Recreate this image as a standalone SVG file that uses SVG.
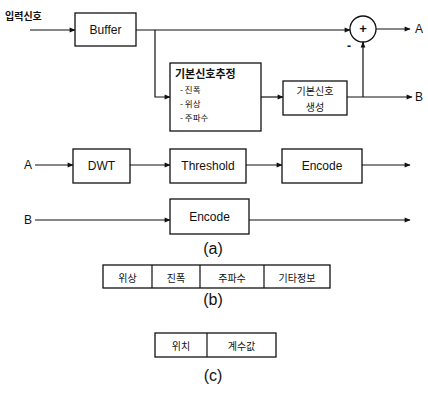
<svg xmlns="http://www.w3.org/2000/svg" width="428" height="396" viewBox="0 0 428 396">
<defs>
<marker id="ah" viewBox="0 0 10 10" refX="9" refY="5" markerWidth="7" markerHeight="6" markerUnits="userSpaceOnUse" orient="auto">
<path d="M0,1 L10,5 L0,9 Z" fill="#111"/>
</marker>
</defs>
<style>
.box{fill:#fff;stroke:#111;stroke-width:1.3}
.ln{fill:none;stroke:#111;stroke-width:1.2}
.t{font-family:"Liberation Sans","Noto Sans CJK KR",sans-serif;font-size:12px;fill:#111;text-anchor:middle;dominant-baseline:central}
.kc{font-family:"Noto Sans CJK KR","Liberation Sans",sans-serif;font-size:10px;fill:#111;text-anchor:middle;dominant-baseline:central}
.k{font-family:"Noto Sans CJK KR","Liberation Sans",sans-serif;font-size:10px;fill:#111;dominant-baseline:central}
.cap{font-family:"Liberation Sans",sans-serif;font-size:16px;fill:#111;text-anchor:middle}
</style>
<rect width="428" height="396" fill="#fff"/>
<g id="connectors">
<path class="ln" d="M30,30 H75" marker-end="url(#ah)"/>
<path class="ln" d="M136,30 H350" marker-end="url(#ah)"/>
<path class="ln" d="M155,30 V97 H170" marker-end="url(#ah)"/>
<path class="ln" d="M260,97 H283" marker-end="url(#ah)"/>
<path class="ln" d="M347,97 H412" marker-end="url(#ah)"/>
<path class="ln" d="M363,97 V42" marker-end="url(#ah)"/>
<path class="ln" d="M376,29 H410" marker-end="url(#ah)"/>
<path class="ln" d="M35,165 H73" marker-end="url(#ah)"/>
<path class="ln" d="M130,165 H170" marker-end="url(#ah)"/>
<path class="ln" d="M246,165 H282" marker-end="url(#ah)"/>
<path class="ln" d="M362,165 H410" marker-end="url(#ah)"/>
<path class="ln" d="M35,220 H170" marker-end="url(#ah)"/>
<path class="ln" d="M249,220 H410" marker-end="url(#ah)"/>
</g>
<g id="input-label"><text class="k" x="5" y="15" style="font-weight:bold">입력신호</text></g>
<g id="buffer"><rect class="box" x="75" y="13" width="61" height="33"/><text class="t" x="105.5" y="30">Buffer</text></g>
<g id="estimate"><rect class="box" x="170" y="63" width="91" height="68"/>
<text class="k" x="175" y="73" style="font-size:11px;font-weight:bold">기본신호추정</text>
<text class="k" x="180" y="89" style="font-size:8.5px">- 진폭</text>
<text class="k" x="180" y="103" style="font-size:8.5px">- 위상</text>
<text class="k" x="180" y="117" style="font-size:8.5px">- 주파수</text>
</g>
<g id="generate"><rect class="box" x="283" y="81" width="64" height="34"/>
<text class="kc" x="315" y="90">기본신호</text>
<text class="kc" x="315" y="106">생성</text>
</g>
<g id="sum"><circle class="box" cx="363" cy="29" r="13"/><text class="t" x="363" y="28" style="font-size:13px;font-weight:bold">+</text>
<text class="t" x="349" y="46" style="font-size:12px;font-weight:bold">-</text></g>
<g id="outA"><text class="t" x="419" y="29">A</text></g>
<g id="outB"><text class="t" x="419" y="97">B</text></g>
<g id="inA2"><text class="t" x="28" y="165">A</text></g>
<g id="dwt"><rect class="box" x="73" y="149" width="57" height="34"/><text class="t" x="101.5" y="166">DWT</text></g>
<g id="threshold"><rect class="box" x="170" y="149" width="76" height="34"/><text class="t" x="208" y="166">Threshold</text></g>
<g id="encodeA"><rect class="box" x="282" y="149" width="80" height="34"/><text class="t" x="322" y="166">Encode</text></g>
<g id="inB2"><text class="t" x="28" y="220">B</text></g>
<g id="encodeB"><rect class="box" x="170" y="199" width="79" height="35"/><text class="t" x="209.5" y="217">Encode</text></g>
<text class="cap" x="213" y="254">(a)</text>
<g id="table-b">
<rect class="box" x="103" y="265" width="227" height="23"/>
<path class="ln" d="M152,265 V288 M200,265 V288 M264,265 V288"/>
<text class="kc" x="127.5" y="277">위상</text>
<text class="kc" x="176" y="277">진폭</text>
<text class="kc" x="232" y="277">주파수</text>
<text class="kc" x="297" y="277">기타정보</text>
</g>
<text class="cap" x="213" y="305">(b)</text>
<g id="table-c">
<rect class="box" x="155" y="333" width="121" height="24"/>
<path class="ln" d="M207,333 V357"/>
<text class="kc" x="181" y="345">위치</text>
<text class="kc" x="241.5" y="345">계수값</text>
</g>
<text class="cap" x="213" y="381">(c)</text>
</svg>
